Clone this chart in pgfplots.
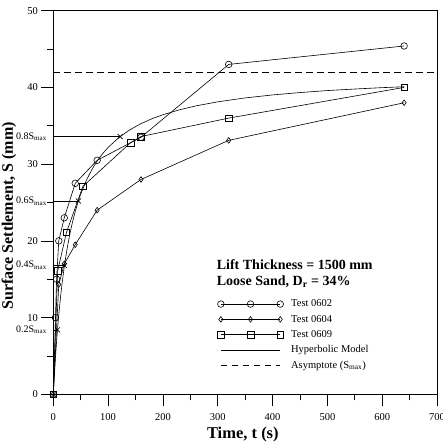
\documentclass[border=0pt]{standalone}
\usepackage{pgfplots}
\pgfplotsset{compat=1.18}
\usepackage{fontspec}
\setmainfont{Liberation Serif}
\begin{document}
\begin{tikzpicture}
\useasboundingbox (-53.3pt,-51.7pt) rectangle (388.7pt,394.3pt);
\begin{axis}[
  at={(0pt,0pt)}, anchor=south west,
  width=383.7pt, height=383.6pt, scale only axis,
  xmin=0, xmax=700, ymin=0, ymax=50,
  xtick={0,100,...,700}, ytick={0,10,...,50},
  minor xtick={50,150,...,650}, minor ytick={5,15,...,45},
  tick align=outside, xtick pos=left, ytick pos=left,
  major tick length=12pt, minor tick length=6pt,
  tick style={black, line width=0.6pt},
  axis line style={line width=0.7pt},
  ticklabel style={font=\fontsize{10.5}{12}\selectfont},
  xticklabel style={yshift=-4pt},
  /pgf/number format/assume math mode=true,
  xlabel={Time, t (s)},
  ylabel={Surface Settlement, S (mm)},
  every axis x label/.style={at={(axis description cs:0.494,-0.104)}, anchor=center, font=\bfseries\fontsize{16.5}{20}\selectfont},
  every axis y label/.style={at={(axis description cs:-0.1155,0.465)}, rotate=90, anchor=center, font=\bfseries\fontsize{16}{20}\selectfont},
  clip=false,
  legend cell align=left,
  legend style={at={(axis cs:298,12.47)}, anchor=north west, draw=none, fill=none,
    font=\fontsize{10.5}{12}\selectfont, row sep=4.8pt, inner sep=0pt,
    nodes={inner sep=0pt, text height=8pt, text depth=2.5pt},
    /tikz/every odd column/.append style={column sep=7.3pt}},
  legend image code/.code={\path[draw=none, fill=none] (-4pt,-4pt) rectangle (63pt,4pt);
    \draw[#1] plot coordinates {(0pt,0pt) (29.7pt,0pt) (59.4pt,0pt)};},
]
% Test 0602
\addplot[black, line width=0.6pt, mark=o, mark size=3.3pt, mark options={solid}]
  coordinates {(0,0) (4,10) (6,15) (10,20) (20,23) (40,27.5) (80,30.5) (160,33.5) (320,43) (640,45.4)};
\addlegendentry{Test 0602}
% Test 0604
\addplot[black, line width=0.6pt, mark=diamond, mark size=2.8pt, mark options={solid}]
  coordinates {(0,0) (10,14.3) (20,17) (40,19.5) (80,24) (160,28) (320,33.1) (640,38)};
\addlegendentry{Test 0604}
% Test 0609
\addplot[black, line width=0.6pt, mark=square, mark size=3.3pt, mark options={solid}]
  coordinates {(0,0) (8,16.1) (24,21.1) (54,27.1) (141,32.8) (160,33.6) (320,36) (640,40)};
\addlegendentry{Test 0609}
% Hyperbolic model
\addplot[black, line width=0.6pt, no marks]
  coordinates {(0,0) (1,1.33) (2,2.58) (4,4.87) (6,6.90) (8,8.73) (10,10.37) (13,12.55) (16,14.45)
  (20,16.63) (25,18.92) (30,20.83) (35,22.44) (40,23.83) (45,25.03) (50,26.09) (60,27.85) (70,29.25)
  (80,30.41) (90,31.37) (100,32.18) (120,33.49) (140,34.49) (160,35.28) (180,35.92) (200,36.44)
  (230,37.08) (260,37.59) (300,38.12) (350,38.63) (400,39.02) (450,39.33) (500,39.59) (550,39.79)
  (600,39.97) (640,40.09)};
\addlegendentry{Hyperbolic Model}
% Asymptote
\addplot[black, line width=0.6pt, no marks, dash pattern=on 6.5pt off 4.5pt]
  coordinates {(0,42) (700,42)};
\addlegendentry{Asymptote (S\textsubscript{max})}
% fractions of S_max
\addplot[black, line width=0.6pt, no marks, forget plot] coordinates {(0,33.6) (122,33.6)};
\addplot[black, line width=0.6pt, no marks, forget plot] coordinates {(0,25.2) (45.75,25.2)};
\addplot[black, line width=0.6pt, no marks, forget plot] coordinates {(0,16.8) (20.3,16.8)};
\addplot[black, line width=0.6pt, no marks, forget plot] coordinates {(0,8.4) (7.6,8.4)};
\addplot[black, line width=0.6pt, only marks, mark=x, mark size=3.5pt, forget plot]
  coordinates {(7.6,8.4) (20.3,16.8) (45.75,25.2) (122,33.6)};
\node[anchor=east, font=\fontsize{10}{12}\selectfont, xshift=-3pt] at (axis cs:0,33.6) {0.8S\textsubscript{max}};
\node[anchor=east, font=\fontsize{10}{12}\selectfont, xshift=-3pt] at (axis cs:0,25.2) {0.6S\textsubscript{max}};
\node[anchor=east, font=\fontsize{10}{12}\selectfont, xshift=-3pt] at (axis cs:0,16.8) {0.4S\textsubscript{max}};
\node[anchor=east, font=\fontsize{10}{12}\selectfont, xshift=-3pt] at (axis cs:0,8.4) {0.2S\textsubscript{max}};
\node[anchor=west, font=\bfseries\fontsize{14}{16}\selectfont, inner sep=0pt] at (axis cs:298,16.85) {Lift Thickness = 1500 mm};
\node[anchor=west, font=\bfseries\fontsize{14}{16}\selectfont, inner sep=0pt] at (axis cs:298,14.68) {Loose Sand, D\textsubscript{r} = 34\%};
\end{axis}
\end{tikzpicture}
\end{document}
